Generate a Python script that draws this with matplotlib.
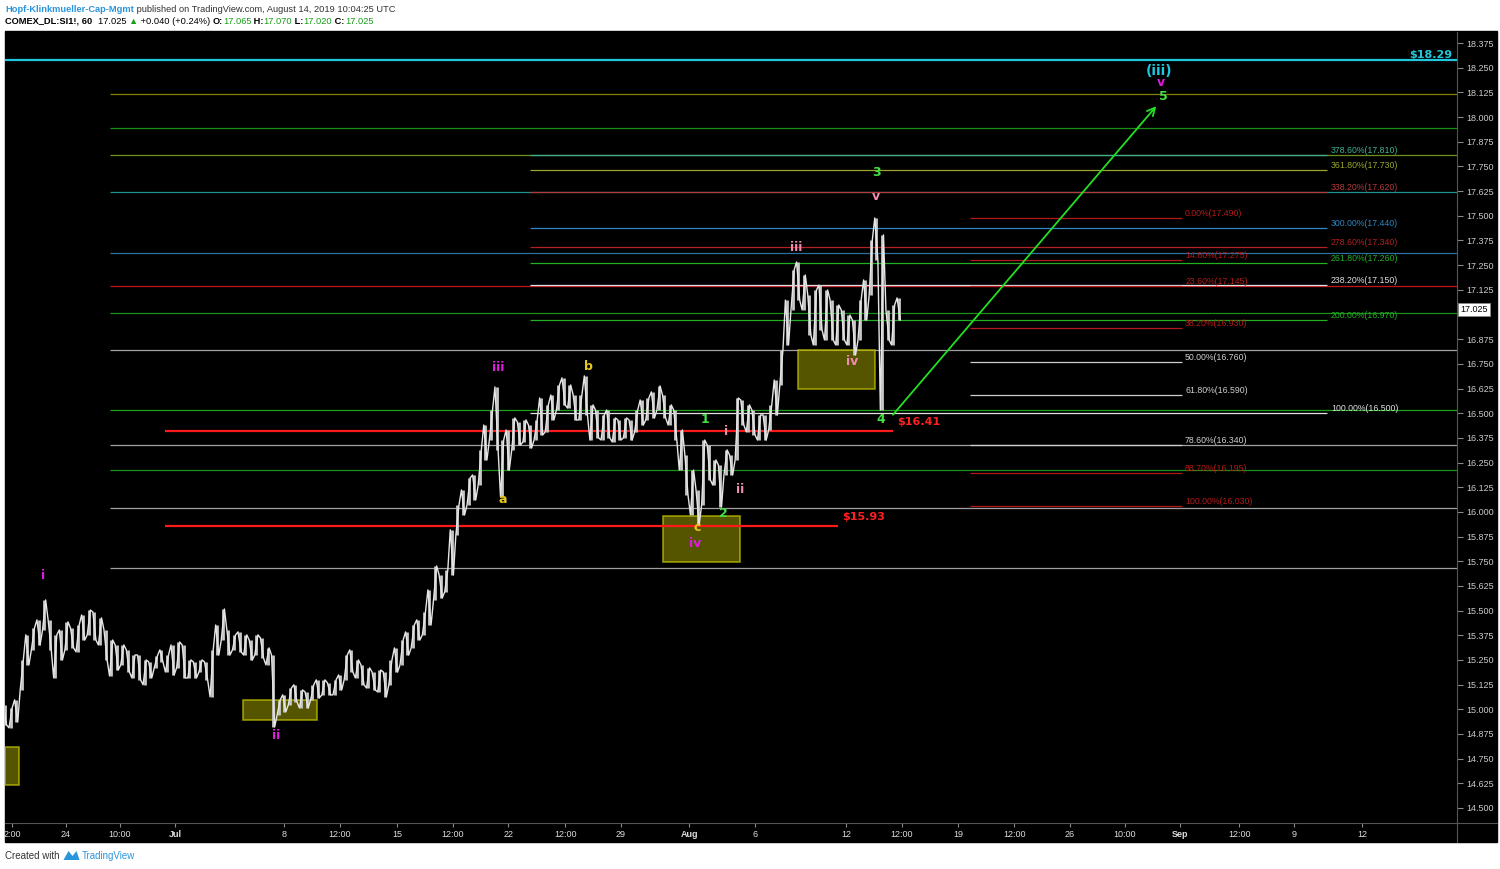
import matplotlib
matplotlib.use("Agg")
import matplotlib.pyplot as plt
from matplotlib.patches import Rectangle, Polygon
import numpy as np

plt.rcParams['font.family'] = ['Liberation Sans', 'DejaVu Sans']

# ---- price data: 60 min bars, sampled every 0.25 trading day (x = trading days from Jun 24)
day0 = -2.73
step = 0.25
highs = [15.022, 15.007, 15.048, 15.250, 15.377, 15.412, 15.453, 15.554, 15.453, 15.377,
         15.402, 15.443, 15.412, 15.427, 15.478, 15.503, 15.493, 15.463, 15.402, 15.351,
         15.326, 15.326, 15.301, 15.275, 15.275, 15.250, 15.240, 15.270, 15.301, 15.275,
         15.326, 15.341, 15.326, 15.250, 15.240, 15.250, 15.240, 15.301, 15.427, 15.508,
         15.402, 15.377, 15.392, 15.377, 15.351, 15.377, 15.362, 15.311, 15.275, 15.048,
         15.073, 15.108, 15.124, 15.098, 15.088, 15.124, 15.149, 15.149, 15.134, 15.149,
         15.174, 15.275, 15.301, 15.250, 15.225, 15.210, 15.189, 15.199, 15.189, 15.250,
         15.311, 15.351, 15.392, 15.427, 15.453, 15.493, 15.605, 15.726, 15.681, 15.706,
         15.909, 16.035, 16.111, 16.172, 16.187, 16.314, 16.440, 16.516, 16.633, 16.364,
         16.415, 16.476, 16.456, 16.466, 16.440, 16.466, 16.577, 16.542, 16.592, 16.643,
         16.679, 16.643, 16.592, 16.592, 16.689, 16.542, 16.516, 16.491, 16.516, 16.476,
         16.466, 16.476, 16.466, 16.516, 16.567, 16.577, 16.608, 16.638, 16.592, 16.542,
         16.516, 16.415, 16.288, 16.212, 16.111, 16.364, 16.339, 16.263, 16.238, 16.314,
         16.288, 16.577, 16.567, 16.542, 16.516, 16.491, 16.491, 16.542, 16.668, 16.820,
         17.073, 17.225, 17.266, 17.200, 17.099, 17.124, 17.149, 17.124, 17.073, 17.048,
         17.023, 16.997, 16.972, 17.073, 17.175, 17.377, 17.489, 17.403, 17.023, 17.048,
         17.084]
lows = [14.921, 14.906, 14.936, 15.098, 15.225, 15.301, 15.326, 15.402, 15.301, 15.159,
        15.250, 15.301, 15.311, 15.291, 15.351, 15.377, 15.351, 15.326, 15.250, 15.169,
        15.199, 15.225, 15.189, 15.159, 15.149, 15.124, 15.159, 15.210, 15.240, 15.189,
        15.174, 15.210, 15.159, 15.159, 15.159, 15.189, 15.149, 15.063, 15.275, 15.351,
        15.275, 15.301, 15.291, 15.275, 15.250, 15.275, 15.260, 15.225, 14.911, 14.971,
        14.987, 15.022, 15.037, 15.007, 15.007, 15.048, 15.058, 15.073, 15.073, 15.073,
        15.098, 15.149, 15.189, 15.159, 15.124, 15.108, 15.098, 15.088, 15.063, 15.124,
        15.189, 15.225, 15.275, 15.311, 15.351, 15.377, 15.427, 15.554, 15.564, 15.595,
        15.681, 15.883, 15.985, 16.035, 16.061, 16.136, 16.263, 16.364, 16.314, 16.076,
        16.212, 16.314, 16.339, 16.354, 16.324, 16.364, 16.390, 16.405, 16.466, 16.516,
        16.542, 16.526, 16.466, 16.466, 16.491, 16.364, 16.375, 16.364, 16.375, 16.354,
        16.364, 16.375, 16.364, 16.405, 16.440, 16.466, 16.476, 16.516, 16.476, 16.440,
        16.364, 16.212, 16.086, 15.985, 15.934, 16.035, 16.162, 16.136, 16.025, 16.187,
        16.187, 16.263, 16.440, 16.405, 16.390, 16.364, 16.364, 16.415, 16.491, 16.643,
        16.846, 17.023, 17.073, 17.023, 16.896, 16.846, 16.922, 16.871, 16.871, 16.846,
        16.871, 16.846, 16.795, 16.871, 16.972, 17.099, 17.276, 16.516, 16.871, 16.846,
        16.972]

# long horizontal levels (from Jun 26 to right edge)
long_levels = [18.117, 17.945, 17.808, 17.620, 17.312, 17.145, 17.008, 16.820, 16.516,
               16.339, 16.212, 16.020, 15.716]
long_colors = ['#80800a', '#1a901a', '#70901e', '#1f9090', '#2a70a0', '#c0141a', '#1a901a',
               '#a0a0a0', '#1aa01a', '#a0a0a0', '#1a901a', '#a0a0a0', '#a0a0a0']

# fib extension (right labels)
ext_pct = ['378.60%', '361.80%', '338.20%', '300.00%', '278.60%', '261.80%', '238.20%',
           '200.00%', '100.00%']
ext_price = [17.810, 17.730, 17.620, 17.440, 17.340, 17.260, 17.150, 16.970, 16.500]
ext_colors = ['#3cb393', '#9aa52b', '#b23a3a', '#2f86c0', '#b22222', '#22b022', '#e0e0e0',
              '#22b022', '#e0e0e0']

# fib retracement (middle labels)
ret_pct = ['0.00%', '14.60%', '23.60%', '38.20%', '50.00%', '61.80%', '78.60%', '88.70%',
           '100.00%']
ret_price = [17.490, 17.275, 17.145, 16.930, 16.760, 16.590, 16.340, 16.195, 16.030]
ret_colors = ['#b21a1a', '#b21a1a', '#b21a1a', '#b21a1a', '#cfcfcf', '#cfcfcf', '#cfcfcf',
              '#b21a1a', '#b21a1a']

# key price lines
key_prices = [16.41, 15.93]
key_ends = [37.02, 34.56]

# wave counts
wave_text = ['i', 'ii', 'iii', 'iv', 'v', '(iii)', '5', 'a', 'b', 'c', '1', '2', 'i', 'ii',
             'iii', 'iv', 'v', '3', '4']
wave_day = [-1.03, 9.40, 19.34, 28.16, 49.02, 48.93, 49.10, 19.56, 23.37, 28.25, 28.60,
            29.41, 29.54, 30.17, 32.68, 35.18, 36.26, 36.26, 36.48]
wave_price = [15.676, 14.865, 16.729, 15.838, 18.173, 18.233, 18.102, 16.061, 16.739,
              15.919, 16.466, 15.990, 16.405, 16.111, 17.337, 16.760, 17.600, 17.717, 16.466]
wave_color = ['#e01be0'] * 5 + ['#1ec8e0', '#44e044'] + ['#e8c81a'] * 3 + ['#44e044'] * 2 \
    + ['#f08cb0'] * 5 + ['#44e044'] * 2

# yellow boxes: (day start, day end, low, high)
boxes = [(-2.73, -2.10, 14.617, 14.809), (7.92, 11.24, 14.946, 15.048),
         (26.72, 30.17, 15.746, 15.979), (32.77, 36.21, 16.623, 16.820)]

# x axis ticks
tick_days = [-2.42, 0, 2.42, 4.88, 9.76, 12.26, 14.82, 17.32, 19.79, 22.34, 24.84, 27.89,
             30.84, 34.91, 37.42, 39.93, 42.44, 44.94, 47.40, 49.87, 52.51, 54.97, 58.01]
tick_labels = ['2:00', '24', '10:00', 'Jul', '8', '12:00', '15', '12:00', '22', '12:00',
               '29', 'Aug', '6', '12', '12:00', '19', '12:00', '26', '10:00', 'Sep', '12:00',
               '9', '12']

W, H = 1500, 869
fig = plt.figure(figsize=(W / 100, H / 100), dpi=100)
fig.patch.set_facecolor('white')

# black chart panel with axis bands
fig.patches.append(Rectangle((5 / W, 1 - 842 / H), 1492 / W, 811 / H,
                             transform=fig.transFigure, color='black', zorder=-10))

ax = fig.add_axes([5 / W, 1 - 823 / H, 1452 / W, 791 / H])
ax.set_zorder(1)
ax.set_facecolor('black')
ax.set_xlim(-2.73, 62.26)
ax.set_ylim(14.424, 18.431)

# levels
for p, c in zip(long_levels, long_colors):
    ax.hlines(p, 1.97, 62.26, color=c, lw=0.9, zorder=1)
for lab, p, c in zip(ext_pct, ext_price, ext_colors):
    ax.hlines(p, 20.77, 56.45, color=c, lw=0.9, zorder=1)
    ax.text(56.62, p, '%s(%.3f)' % (lab, p), color=c, fontsize=6.3, va='bottom', ha='left')
for lab, p, c in zip(ret_pct, ret_price, ret_colors):
    ax.hlines(p, 40.47, 49.96, color=c, lw=0.9, zorder=1)
    ax.text(50.09, p, '%s(%.3f)' % (lab, p), color=c, fontsize=6.3, va='bottom', ha='left')

ax.hlines(18.29, -2.73, 62.26, color='#1fc8dc', lw=1.6, zorder=2)
ax.text(62.05, 18.29, '$18.29', color='#1fc8dc', fontsize=8, fontweight='bold',
        ha='right', va='bottom', family='DejaVu Sans')
for p, e in zip(key_prices, key_ends):
    ax.hlines(p, 4.43, e, color='#ff1a1a', lw=1.6, zorder=3)
    ax.text(e + 0.2, p + 0.02, '$%.2f' % p, color='#ff2020', fontsize=8,
            fontweight='bold', ha='left', va='bottom', family='DejaVu Sans')

for x0, x1, lo, hi in boxes:
    ax.add_patch(Rectangle((x0, lo), x1 - x0, hi - lo, facecolor='#7a7a00', alpha=0.7,
                           edgecolor='#c8c800', lw=1.2, zorder=2))

# price bars: high-low bars plus a zigzag trace through the extremes
days = day0 + step * np.arange(len(highs))
ax.vlines(days, lows, highs, color='#c8c8c8', lw=2.0, zorder=4)
zx = np.repeat(days, 2) + np.tile([-0.07, 0.07], len(days))
zy = np.ravel(np.column_stack([highs, lows]))
zy[2::4], zy[3::4] = zy[3::4].copy(), zy[2::4].copy()
ax.plot(zx, zy, color='#e6e6e6', lw=1.0, zorder=4)

# arrow
ax.annotate('', xy=(48.88, 18.066), xytext=(36.93, 16.481),
            arrowprops=dict(arrowstyle='->', color='#22e022', lw=1.3,
                            mutation_scale=14), zorder=5)

for t, d, p, c in zip(wave_text, wave_day, wave_price, wave_color):
    fs = 10 if t == '(iii)' else 9
    ax.text(d, p, t, color=c, fontsize=fs, fontweight='bold', ha='center', va='center',
            family='DejaVu Sans', zorder=6)

# axes styling
for s in ['top', 'left']:
    ax.spines[s].set_visible(False)
ax.spines['bottom'].set_color('#555555')
ax.spines['right'].set_color('#555555')
ax.yaxis.tick_right()
yt = np.arange(14.5, 18.4, 0.125)
ax.set_yticks(yt)
# 17.000 sits under the last-price tag
ax.set_yticklabels(['' if abs(v - 17.0) < 1e-6 else '%.3f' % v for v in yt])
ax.tick_params(axis='y', colors='#888888', labelcolor='#cccccc', labelsize=6.5, length=4,
               pad=3)
ax.set_xticks(tick_days)
ax.set_xticklabels(tick_labels)
ax.tick_params(axis='x', colors='#888888', labelcolor='#dddddd', labelsize=6.5, length=3,
               pad=2)
for lbl in ax.get_xticklabels():
    if lbl.get_text() in ('Jul', 'Aug', 'Sep'):
        lbl.set_fontweight('bold')

# last price tag
ax.text(1.002, 17.025, '17.025', transform=ax.get_yaxis_transform(), color='black',
        fontsize=6.5, ha='left', va='center', clip_on=False, zorder=10,
        bbox=dict(boxstyle='square,pad=0.25', facecolor='white', edgecolor='#888888', lw=0.6))

# frame lines of axis bands
fig.add_artist(plt.Line2D([1457 / W, 1457 / W], [1 - 842 / H, 1 - 823 / H], color='#555555',
                          lw=0.8, transform=fig.transFigure))
fig.add_artist(plt.Line2D([1457 / W, 1497 / W], [1 - 823 / H, 1 - 823 / H], color='#555555',
                          lw=0.8, transform=fig.transFigure))

# header / footer texts
renderer = fig.canvas.get_renderer()


def put_run(x_px, y_px, parts, fs):
    x = x_px
    for s, color, weight in parts:
        t = fig.text(x / W, 1 - y_px / H, s, color=color, fontsize=fs, fontweight=weight,
                     ha='left', va='center')
        x += t.get_window_extent(renderer=renderer).width
    return x


put_run(5, 9, [('Hopf-Klinkmueller-Cap-Mgmt', '#2a95dd', 'bold'),
               ('\u00a0published on TradingView.com, August 14, 2019 10:04:25 UTC', '#333333',
                'normal')], 6.7)
g = '#1a9e1a'
put_run(5, 21, [('COMEX_DL:SI1!, 60\u00a0\u00a0', 'black', 'bold'),
                ('17.025\u00a0', 'black', 'normal'), ('\u25b2', g, 'normal'),
                ('\u00a0+0.040 (+0.24%)\u00a0', 'black', 'normal'),
                ('O:', 'black', 'bold'), ('17.065', g, 'normal'),
                ('\u00a0H:', 'black', 'bold'), ('17.070', g, 'normal'),
                ('\u00a0L:', 'black', 'bold'), ('17.020', g, 'normal'),
                ('\u00a0C:', 'black', 'bold'), ('17.025', g, 'normal')], 6.7)

xe = put_run(5, 856, [('Created with', '#333333', 'normal')], 7)
fig.patches.append(Polygon([[(xe + 4) / W, 1 - 860 / H], [(xe + 9) / W, 1 - 851 / H],
                            [(xe + 13) / W, 1 - 856 / H], [(xe + 17) / W, 1 - 851 / H],
                            [(xe + 20) / W, 1 - 860 / H]], closed=True,
                           transform=fig.transFigure, facecolor='#2a95dd', edgecolor='none'))
put_run(xe + 22, 856, [('TradingView', '#2a95dd', 'normal')], 7)

fig.savefig('out.png', dpi=100, facecolor=fig.get_facecolor())
